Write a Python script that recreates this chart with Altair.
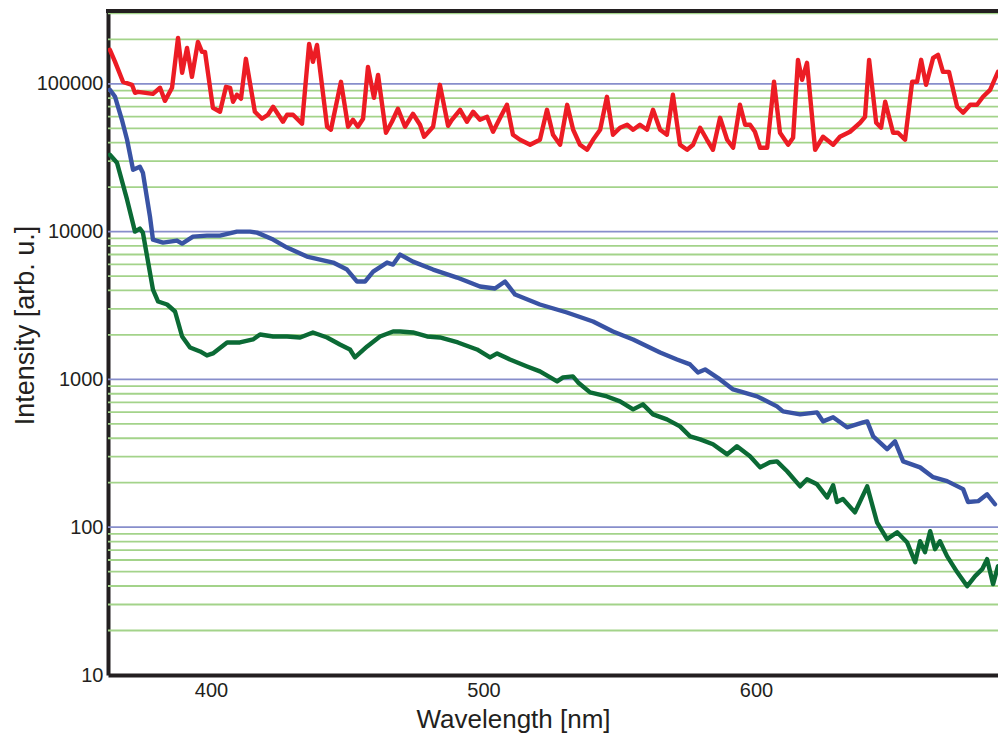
import altair as alt
import pandas as pd

# ---- data (wavelength in nm, intensity in arb. u.) ----
red_wl = [362.9, 364.8, 367.7, 371.0, 372.1, 373.2, 378.7, 381.3, 383.1, 385.7, 387.9, 389.4, 391.2, 393.0,
          395.2, 396.7, 397.8, 400.7, 403.3, 405.5, 407.0, 408.1, 409.5, 411.0, 412.8, 416.1, 418.7, 420.9,
          422.8, 426.4, 427.9, 430.1, 433.4, 436.0, 437.4, 438.9, 442.6, 444.0, 447.7, 450.3, 452.1, 453.9,
          455.8, 457.6, 459.8, 461.3, 464.2, 466.4, 468.6, 471.2, 474.1, 476.7, 478.2, 481.5, 484.0, 487.0,
          488.4, 491.4, 493.9, 496.2, 498.7, 501.3, 503.5, 506.1,
          508.6, 510.8, 513.4, 517.1, 520.7, 523.3, 525.5, 528.1, 530.7, 532.9, 535.4, 538.0, 540.2, 542.8,
          545.3, 547.5, 550.1, 552.7, 554.9, 557.4, 560.0, 562.2, 564.8, 567.3, 569.5, 572.1, 574.7, 576.9,
          579.5, 582.0, 584.2, 586.8, 589.4, 591.6, 594.1, 596.0,
          597.8, 599.6, 601.5, 604.1, 606.6, 608.8, 611.8, 613.6, 615.4, 616.9, 618.7, 621.7, 624.6, 628.3,
          630.8, 634.5, 638.2, 640.0, 641.5, 644.1, 645.9, 647.4, 650.3, 652.1, 654.7, 657.3, 659.1, 660.6,
          662.4, 665.0, 666.8, 668.6, 670.8, 673.8, 676.0, 678.6, 681.1, 683.3, 685.9, 688.8]
red_int = [169700, 140800, 103200, 98450, 86950, 88300, 85600, 94000, 76700, 94000, 204600, 118700, 175100, 111500,
           192200, 164500, 164500, 68860, 64700, 95400, 94000, 75600, 84300, 79200, 147600, 64700, 58000, 61730,
           69930, 55370, 61730, 61730, 53660, 186400, 140800, 183400, 51230, 48900, 103200, 51230, 57120, 51230,
           58000, 130300, 80430, 115000, 46680, 55370, 67800, 51230, 62700, 52840, 43850, 51230, 98450, 52030,
           57120, 66730, 55370, 64700, 57120, 59840, 47400, 58920,
           72130, 45220, 41830, 38700, 41830, 66730, 45220, 38700, 72130, 48900, 38700, 35810, 41830, 48900,
           81700, 45220, 50430, 52840, 48900, 52840, 48900, 66730, 48900, 45220, 84300, 38700, 35810, 38700,
           50430, 41830, 35810, 58920, 41830, 36950, 72130, 52840,
           52840, 47400, 36950, 36950, 103200, 46680, 38700, 43170, 145300, 106400, 138700, 35810, 43850, 38700,
           43850, 47400, 54520, 59840, 145300, 54520, 50430, 75600, 46680, 46680, 41830, 103200, 103200, 145300,
           98450, 149900, 157000, 120500, 120500, 69930, 63700, 72130, 72130, 81700, 91100, 120500]

blue_wl = [362.9, 364.8, 367.3, 369.2, 371.4, 373.9, 375.0, 377.6, 378.7, 382.4, 387.5, 389.4, 393.4, 398.5,
           403.3, 409.5, 414.3, 416.9, 422.8, 427.9, 435.2, 444.8, 449.9, 453.6, 456.5, 459.5, 464.6, 466.8,
           469.4, 474.1, 481.5, 490.3, 498.7, 504.2, 507.9, 511.6, 520.7, 530.6, 540.2, 547.5, 554.9, 564.8,
           571.0, 575.8, 578.7, 581.3, 586.8, 591.6, 600.4, 607.7, 609.9, 616.2, 622.4, 624.6, 628.3, 633.4,
           639.3, 640.8, 643.0, 648.1, 651.0, 654.0, 660.2, 665.0, 670.1, 676.0, 677.8, 681.5, 684.8, 687.7]
blue_int = [91100, 81700, 57120, 41830, 26230, 27490, 25040, 12630, 8830, 8430, 8700, 8300, 9250, 9400,
            9400, 10000, 10000, 9845, 8830, 7800, 6780, 6173, 5537, 4594, 4594, 5366, 6173, 5984,
            6993, 6270, 5537, 4890, 4250, 4120, 4594, 3752, 3212, 2836, 2466, 2110, 1864, 1522,
            1365, 1263, 1115, 1168, 1000, 856, 768, 657, 608, 580, 598, 520, 554, 474,
            512, 520, 412, 337, 381, 279, 254, 218, 205, 181, 148, 150, 167, 143]

green_wl = [362.9, 365.5, 369.2, 372.1, 373.9, 375.0, 378.7, 380.6, 383.9, 386.8, 389.4, 392.3, 396.0, 398.5,
            400.7, 405.9, 410.6, 415.4, 418.0, 422.8, 427.9, 432.7, 437.4, 442.6, 447.3, 451.0, 452.8, 457.3,
            462.0, 466.8, 469.4, 474.1, 479.3, 484.0, 490.6, 497.6, 502.4, 505.0, 509.7, 516.0, 520.7, 527.0,
            529.2, 532.8, 534.7, 539.1, 545.3, 550.1, 554.9, 558.5, 562.2, 567.3, 572.1, 575.8, 579.5, 584.2,
            589.4, 593.0, 597.8, 601.5, 605.1, 607.7, 611.4, 616.2, 618.7, 622.4, 626.1, 628.3, 629.7, 631.9,
            636.3, 640.8, 644.4, 648.1, 651.8, 655.4, 658.4, 660.2, 662.0, 663.9, 665.7, 667.5, 670.1, 673.8,
            677.5, 680.4, 683.0, 684.8, 687.0, 688.8]
green_int = [33140, 29260, 16450, 10000, 10480, 9845, 4056, 3365, 3212, 2880, 1952, 1645, 1546, 1453,
             1499, 1778, 1778, 1864, 2014, 1952, 1952, 1922, 2078, 1922, 1724, 1594, 1408, 1671,
             1952, 2110, 2110, 2078, 1952, 1922, 1778, 1594, 1408, 1499, 1365, 1224, 1133, 969,
             1032, 1048, 954, 817, 767, 710, 627, 678, 580, 537, 481, 412, 393, 364,
             311, 353, 302, 254, 275, 279, 239, 189, 211, 195, 159, 192, 148, 155,
             126, 189, 108, 83, 92.5, 79.2, 58.0, 80.4, 67.8, 94.0, 71.0, 80.4, 63.7, 49.7,
             39.9, 46.7, 52.0, 60.8, 41.2, 54.5]

series_names = ["red", "blue", "green"]
series_colors = ["#ec1c24", "#3953a4", "#0b6a35"]

x_ticks = [400, 500, 600]
decade_lines = [100, 1000, 10000, 100000]
minor_lines = [20, 30, 40, 50, 60, 70, 80, 90,
               200, 300, 400, 500, 600, 700, 800, 900,
               2000, 3000, 4000, 5000, 6000, 7000, 8000, 9000,
               20000, 30000, 40000, 50000, 60000, 70000, 80000, 90000,
               200000, 300000]
y_ticks = [10, 100, 1000, 10000, 100000]

X_DOMAIN = [362.2, 688.8]
Y_DOMAIN = [10, 311000]
W, H = 890, 664
FONT = "Liberation Sans"
INK = "#231f20"

# ---- tables ----
rows = []
for name, wl, it in [("red", red_wl, red_int), ("blue", blue_wl, blue_int), ("green", green_wl, green_int)]:
    for i, (a, b) in enumerate(zip(wl, it)):
        rows.append({"series": name, "wl": a, "intensity": b, "order": i})
df = pd.DataFrame(rows)
minor_df = pd.DataFrame({"v": minor_lines})
decade_df = pd.DataFrame({"v": decade_lines})

yscale = alt.Scale(type="log", domain=Y_DOMAIN, nice=False)
xscale = alt.Scale(domain=X_DOMAIN, nice=False, zero=False)

y_axis = alt.Axis(values=y_ticks, format="d", grid=False, ticks=False,
                  domainColor=INK, domainWidth=4,
                  labelFont=FONT, labelFontSize=20, labelColor=INK, labelPadding=5,
                  labelBaseline="middle",
                  title="Intensity [arb. u.]", titleFont=FONT, titleFontSize=27,
                  titleFontWeight="normal", titleColor=INK,
                  titleX=-75, titleY=314, titleBaseline="alphabetic")
x_axis = alt.Axis(values=x_ticks, format="d", grid=False, ticks=False,
                  domainColor=INK, domainWidth=4,
                  labelFont=FONT, labelFontSize=20, labelColor=INK, labelPadding=5,
                  title="Wavelength [nm]", titleFont=FONT, titleFontSize=26,
                  titleFontWeight="normal", titleColor=INK,
                  titleX=405, titleY=52, titleBaseline="alphabetic")

minor = alt.Chart(minor_df).mark_rule(color="#a3d38a", strokeWidth=1.8).encode(
    y=alt.Y("v:Q", scale=yscale, axis=y_axis, title="Intensity [arb. u.]"),
    x=alt.value(0), x2=alt.value(W),
)
decade = alt.Chart(decade_df).mark_rule(color="#878ecb", strokeWidth=1.8).encode(
    y=alt.Y("v:Q", scale=yscale, axis=y_axis, title="Intensity [arb. u.]"),
    x=alt.value(0), x2=alt.value(W),
)

lines = alt.Chart(df).mark_line(strokeWidth=4.4, strokeJoin="round", strokeCap="round", clip=True).encode(
    x=alt.X("wl:Q", scale=xscale, axis=x_axis, title="Wavelength [nm]"),
    y=alt.Y("intensity:Q", scale=yscale, axis=y_axis, title="Intensity [arb. u.]"),
    color=alt.Color("series:N", scale=alt.Scale(domain=series_names, range=series_colors), legend=None),
    order="order:Q",
    detail="series:N",
)

top_border = alt.Chart(pd.DataFrame({"a": [0]})).mark_rule(color=INK, strokeWidth=4).encode(
    x=alt.value(-2), x2=alt.value(W + 20), y=alt.value(0)
)

chart = alt.layer(minor, decade, lines, top_border).properties(
    width=W, height=H,
    padding={"left": 108, "top": 11, "right": 0, "bottom": 61},
    autosize="none",
    background="white",
).configure_view(stroke=None)

chart.save("out.html", embed_options={"renderer": "svg", "actions": False})
